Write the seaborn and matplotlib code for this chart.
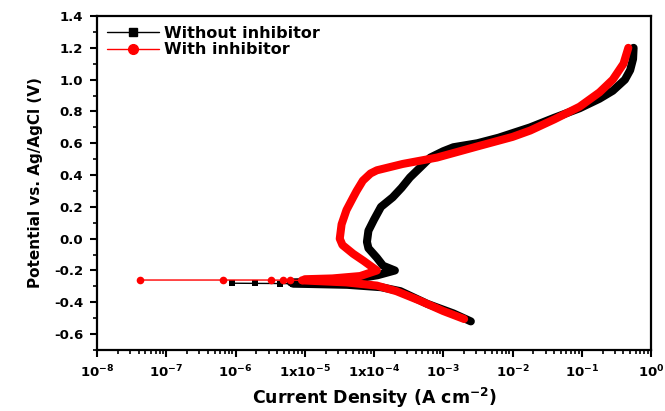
import numpy as np
import pandas as pd
import seaborn as sns
import matplotlib
matplotlib.use("Agg")
import matplotlib.pyplot as plt
from matplotlib.lines import Line2D
from matplotlib.ticker import LogLocator, FixedLocator, MultipleLocator, NullFormatter

# ---- data ----
# Without inhibitor: cathodic branch (dense), points near Ecorr (sparse), anodic branch (dense)
wo_cath_i = [2.5e-3, 1.4e-3, 5.9e-4, 2.4e-4, 1.26e-4, 4.1e-5, 1.2e-5, 6.8e-6]
wo_cath_E = [-0.52, -0.47, -0.41, -0.33, -0.305, -0.29, -0.285, -0.283]
wo_tail_i = [6.8e-6, 4.4e-6, 1.9e-6, 8.9e-7]
wo_tail_E = [-0.283, -0.282, -0.281, -0.28]
wo_anod_i = [6.3e-6, 2.0e-5, 5.0e-5, 1.12e-4, 2.0e-4, 1.35e-4, 1.1e-4, 8.3e-5, 7.9e-5,
             8.3e-5, 1.0e-4, 1.26e-4, 1.86e-4, 2.5e-4, 3.3e-4, 4.7e-4, 6.5e-4, 1.0e-3,
             1.4e-3, 3.1e-3, 6.3e-3, 1.8e-2, 4.0e-2, 9.3e-2, 0.18, 0.28, 0.42, 0.50,
             0.55, 0.56]
wo_anod_E = [-0.275, -0.27, -0.255, -0.23, -0.20, -0.17, -0.12, -0.06, -0.02,
             0.05, 0.12, 0.20, 0.26, 0.32, 0.385, 0.45, 0.51, 0.55,
             0.575, 0.60, 0.635, 0.70, 0.76, 0.82, 0.88, 0.93, 1.00, 1.06,
             1.13, 1.20]

# With inhibitor
w_cath_i = [2.0e-3, 1.0e-3, 4.6e-4, 2.1e-4, 1.1e-4, 4.0e-5, 1.26e-5, 9.1e-6]
w_cath_E = [-0.505, -0.455, -0.39, -0.33, -0.295, -0.275, -0.265, -0.262]
w_tail_i = [9.1e-6, 6.2e-6, 4.9e-6, 3.2e-6, 6.5e-7, 4.2e-8]
w_tail_E = [-0.262, -0.261, -0.261, -0.26, -0.26, -0.26]
w_anod_i = [1.0e-5, 2.5e-5, 6.3e-5, 1.1e-4, 7.1e-5, 5.0e-5, 3.5e-5, 3.2e-5, 3.4e-5,
            4.0e-5, 5.0e-5, 5.6e-5, 6.9e-5, 8.9e-5, 1.1e-4, 2.6e-4, 8.1e-4, 3.1e-3,
            1.0e-2, 1.8e-2, 4.0e-2, 9.3e-2, 0.18, 0.28, 0.40, 0.47]
w_anod_E = [-0.255, -0.25, -0.235, -0.20, -0.14, -0.095, -0.04, 0.0, 0.09,
            0.18, 0.26, 0.30, 0.365, 0.41, 0.43, 0.47, 0.51, 0.58,
            0.64, 0.68, 0.75, 0.83, 0.92, 1.00, 1.10, 1.20]

x_ticks = [1e-8, 1e-7, 1e-6, 1e-5, 1e-4, 1e-3, 1e-2, 1e-1, 1e0]
x_ticklabels = [r"$10^{-8}$", r"$10^{-7}$", r"$10^{-6}$", r"$1\mathrm{x}10^{-5}$",
                r"$1\mathrm{x}10^{-4}$", r"$10^{-3}$", r"$10^{-2}$", r"$10^{-1}$", r"$10^{0}$"]
y_ticks = [-0.6, -0.4, -0.2, 0.0, 0.2, 0.4, 0.6, 0.8, 1.0, 1.2, 1.4]

labels = ["Without inhibitor", "With inhibitor"]
colors = ["#000000", "#ff0000"]

# ---- style ----
sns.set_style("ticks")
plt.rcParams["font.family"] = ["DejaVu Sans"]
plt.rcParams["font.weight"] = "bold"
plt.rcParams["mathtext.fontset"] = "custom"
plt.rcParams["mathtext.rm"] = "DejaVu Sans:bold"
plt.rcParams["mathtext.it"] = "DejaVu Sans:bold:italic"
plt.rcParams["mathtext.bf"] = "DejaVu Sans:bold"
for key in ["text.color", "axes.labelcolor", "xtick.color", "ytick.color", "axes.edgecolor"]:
    plt.rcParams[key] = "black"

fig = plt.figure(figsize=(6.65, 4.11), dpi=100)
ax = fig.add_axes([0.1459, 0.1484, 0.979 - 0.1459, 0.961 - 0.1484])

def draw(cath_i, cath_E, tail_i, tail_E, anod_i, anod_E, color, marker, ms):
    dense_kw = dict(color=color, linewidth=5.8, sort=False, estimator=None, ax=ax,
                    legend=False)
    sns.lineplot(x=cath_i, y=cath_E, **dense_kw)
    sns.lineplot(x=anod_i, y=anod_E, **dense_kw)
    sns.lineplot(x=tail_i, y=tail_E, color=color, linewidth=1.0, sort=False,
                 estimator=None, marker=marker, markersize=ms, markeredgewidth=0,
                 ax=ax, legend=False)

draw(wo_cath_i, wo_cath_E, wo_tail_i, wo_tail_E, wo_anod_i, wo_anod_E,
     colors[0], "s", 5)
draw(w_cath_i, w_cath_E, w_tail_i, w_tail_E, w_anod_i, w_anod_E,
     colors[1], "o", 5.5)

ax.set_xscale("log")
ax.set_xlim(1e-8, 1e0)
ax.set_ylim(-0.7, 1.4)
ax.xaxis.set_major_locator(FixedLocator(x_ticks))
ax.set_xticklabels(x_ticklabels)
ax.xaxis.set_minor_locator(LogLocator(base=10, subs=np.arange(2, 10), numticks=100))
ax.xaxis.set_minor_formatter(NullFormatter())
ax.yaxis.set_major_locator(FixedLocator(y_ticks))
ax.set_yticklabels([f"{v:.1f}" for v in y_ticks])
ax.yaxis.set_minor_locator(MultipleLocator(0.1))

for s in ax.spines.values():
    s.set_linewidth(1.6)
    s.set_visible(True)
ax.tick_params(which="major", direction="out", length=5, width=1.5,
               labelsize=9.5, pad=5, top=False, right=False)
ax.tick_params(which="minor", direction="out", length=3, width=1.2,
               top=False, right=False)
for lab in ax.get_xticklabels() + ax.get_yticklabels():
    lab.set_fontweight("bold")

ax.set_xlabel(r"Current Density (A cm$^{-2}$)", fontsize=12.5, fontweight="bold",
              labelpad=4)
ax.set_ylabel("Potential vs. Ag/AgCl (V)", fontsize=11, fontweight="bold", labelpad=8)

handles = [Line2D([], [], color=colors[0], lw=1, marker="s", markersize=6),
           Line2D([], [], color=colors[1], lw=1, marker="o", markersize=7)]
ax.legend(handles, labels, loc="upper left", frameon=False, handlelength=3.3,
          handletextpad=0.3, borderaxespad=0.2, labelspacing=0.1,
          prop=dict(weight="bold", size=11.5))

fig.savefig("out.png", dpi=100)
